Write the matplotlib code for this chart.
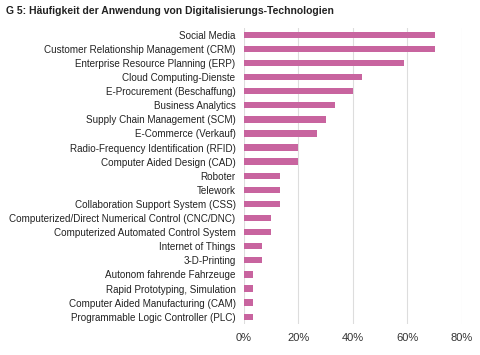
import matplotlib.pyplot as plt
from matplotlib.ticker import PercentFormatter

plt.rcParams['font.family'] = ['Liberation Sans', 'DejaVu Sans']

labels = [
    "Social Media",
    "Customer Relationship Management (CRM)",
    "Enterprise Resource Planning (ERP)",
    "Cloud Computing-Dienste",
    "E-Procurement (Beschaffung)",
    "Business Analytics",
    "Supply Chain Management (SCM)",
    "E-Commerce (Verkauf)",
    "Radio-Frequency Identification (RFID)",
    "Computer Aided Design (CAD)",
    "Roboter",
    "Telework",
    "Collaboration Support System (CSS)",
    "Computerized/Direct Numerical Control (CNC/DNC)",
    "Computerized Automated Control System",
    "Internet of Things",
    "3-D-Printing",
    "Autonom fahrende Fahrzeuge",
    "Rapid Prototyping, Simulation",
    "Computer Aided Manufacturing (CAM)",
    "Programmable Logic Controller (PLC)",
]
values = [70.0, 70.0, 58.6, 43.3, 40.0, 33.3, 30.0, 26.7, 20.0, 20.0,
          13.3, 13.3, 13.3, 10.0, 10.0, 6.7, 6.7, 3.3, 3.3, 3.3, 3.3]
xticks = [0, 20, 40, 60, 80]

fig = plt.figure(figsize=(4.8, 3.55), dpi=100)
ax = fig.add_axes([0.508, 0.088, 0.4545, 0.834])

ypos = list(range(len(labels)))
ax.barh(ypos, values, height=0.45, color="#c8649f", zorder=3)
ax.set_ylim(len(labels) - 0.5, -0.5)
ax.set_yticks(ypos)
ax.set_yticklabels(labels, fontsize=7.15, color="#222222")
ax.set_xlim(0, 80)
ax.set_xticks(xticks)
ax.xaxis.set_major_formatter(PercentFormatter(decimals=0))
ax.tick_params(axis="x", labelsize=8, colors="#333333", length=0, pad=6.5)
ax.tick_params(axis="y", length=0, pad=6)
ax.grid(axis="x", color="#dddddd", linewidth=0.8, zorder=0)
for s in ax.spines.values():
    s.set_visible(False)

fig.text(0.0125, 0.968, "G 5: Häufigkeit der Anwendung von Digitalisierungs-Technologien",
         fontsize=7.5, fontweight="bold", va="center", ha="left", color="#222222")

fig.savefig("out.png", dpi=100)
